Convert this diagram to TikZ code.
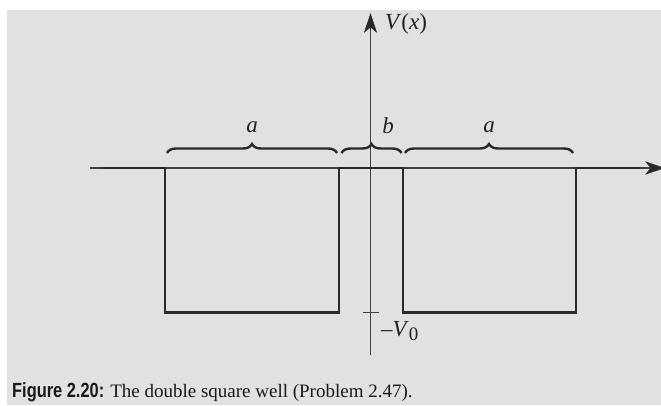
\documentclass[tikz,border=0pt]{standalone}
\usepackage{fontspec}
\setmainfont{Liberation Serif}
\newfontfamily\capfont[FakeStretch=0.8]{Liberation Sans}
\usetikzlibrary{arrows.meta,decorations.pathreplacing}
\definecolor{bg}{HTML}{E1E1E1}
\definecolor{ink}{HTML}{2A2A2A}
\tikzset{
  axisline/.style={draw=ink!90, line width=1.7pt},
  potline/.style={draw=ink, line width=2.6pt},
  bracepath/.style={draw=ink, line width=2.4pt, decorate, decoration={brace, amplitude=9pt}},
  lbl/.style={inner sep=0pt, font=\fontsize{23}{25}\selectfont, text=ink!80!black},
  headfill/.style={fill=ink, draw=ink, line width=0.6pt, line join=miter}
}
\begin{document}
\begin{tikzpicture}[x=1pt,y=-1pt]
\useasboundingbox (0,0) rectangle (661,405);
\fill[white] (0,0) rectangle (661,405);
\fill[bg] (7,10) rectangle (661,405);
% axes
\coordinate (xs) at (90,168);
\coordinate (xe) at (650,168);
\coordinate (ys) at (370.5,355);
\coordinate (ye) at (370.5,26);
\draw[axisline] (xs) -- (xe);
\draw[axisline] (ys) -- (ye);
% arrowheads
\coordinate (ht) at (370.5,14);
\coordinate (hr) at (664,168);
\fill[headfill] (ht) -- ++(6,18) -- ++(-6,-5) -- ++(-6,5) -- cycle;
\fill[headfill] (hr) -- ++(-18,-6) -- ++(5,6) -- ++(-5,6) -- cycle;
% tick at -V0
\coordinate (tl) at (362.5,312.5);
\coordinate (tr) at (379,312.5);
\draw[axisline] (tl) -- (tr);
% potential
\coordinate (p0) at (103,168);
\coordinate (p1) at (165,168);
\coordinate (p2) at (165,312.5);
\coordinate (p3) at (339,312.5);
\coordinate (p4) at (339,168);
\coordinate (p5) at (403,168);
\coordinate (p6) at (403,312.5);
\coordinate (p7) at (576,312.5);
\coordinate (p8) at (576,168);
\coordinate (p9) at (640,168);
\draw[potline, line join=miter] (p0) -- (p1) -- (p2) -- (p3) -- (p4) -- (p5) -- (p6) -- (p7) -- (p8) -- (p9);
% braces
\coordinate (b1s) at (167,153);
\coordinate (b1e) at (337,153);
\coordinate (b2s) at (341.5,153);
\coordinate (b2e) at (401.5,153);
\coordinate (b3s) at (405,153);
\coordinate (b3e) at (573,153);
\draw[bracepath] (b1s) -- (b1e);
\draw[bracepath] (b2s) -- (b2e);
\draw[bracepath] (b3s) -- (b3e);
% labels
\node[lbl] (la) at (252,127) {\itshape a};
\node[lbl] (lb) at (388,126) {\itshape b};
\node[lbl] (lc) at (489,127) {\itshape a};
\node[lbl, anchor=west] (lv) at (385,24) {\textit{V}(\textit{x})};
\node[lbl, anchor=west] (lm) at (381,331) {\textendash\textit{V}\raisebox{-0.35ex}{\fontsize{19}{20}\selectfont 0}};
% caption
\node[anchor=base west, inner sep=0pt, text=black!90] (cap) at (12,397.5)
  {{\capfont\bfseries\fontsize{20.5}{22}\selectfont Figure 2.20:}\hspace{6pt}{\fontsize{19}{22}\selectfont The double square well (Problem 2.47).}};
\end{tikzpicture}
\end{document}
